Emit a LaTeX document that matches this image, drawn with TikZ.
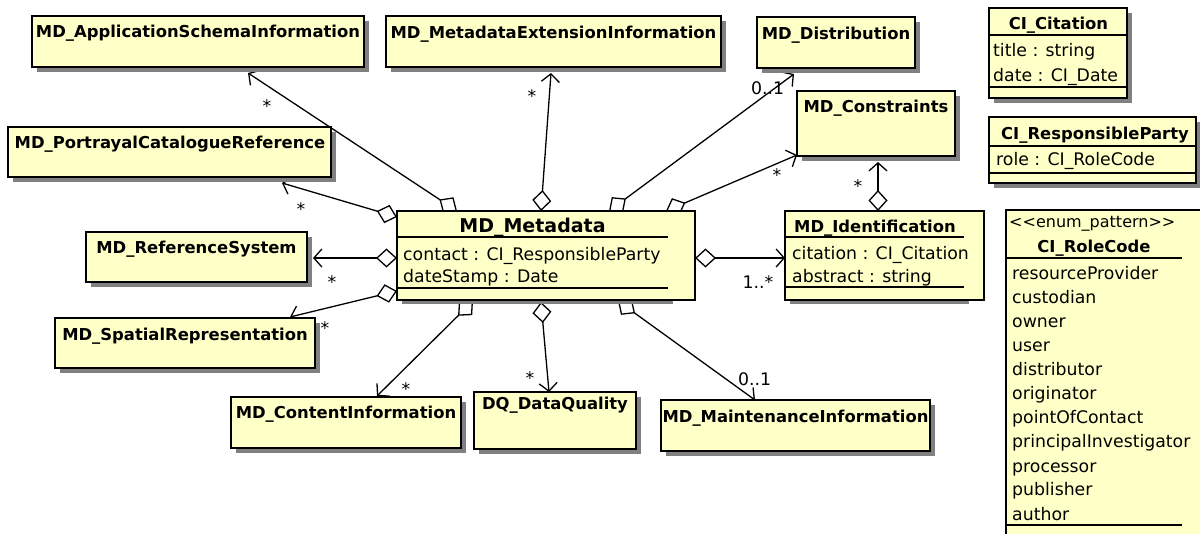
\documentclass[tikz,border=0pt]{standalone}
\usepackage{fontspec}
\setmainfont{DejaVu Sans}
\usetikzlibrary{arrows.meta,shadows,backgrounds}
\definecolor{boxfill}{RGB}{255,255,200}
\definecolor{shadowgray}{RGB}{128,128,128}
\begin{document}
\begin{tikzpicture}[x=1pt,y=-1pt,
  umlbox/.style={draw=black, line width=1.3pt, fill=boxfill, inner sep=0pt, outer sep=0pt, anchor=north west},
  shbox/.style={umlbox, drop shadow={shadow xshift=5pt, shadow yshift=-5pt, fill=shadowgray, opacity=1}},
  shad/.style={fill=shadowgray, draw=none},
  ttl/.style={anchor=base, inner sep=0pt, font=\fontsize{16.4}{20}\selectfont\bfseries},
  bigttl/.style={anchor=base, inner sep=0pt, font=\fontsize{19}{22}\selectfont\bfseries},
  attr/.style={anchor=base west, inner sep=0pt, font=\fontsize{17.3}{20}\selectfont},
  stereo/.style={anchor=base west, inner sep=0pt, font=\fontsize{16}{20}\selectfont},
  mult/.style={anchor=base, inner sep=0pt, font=\fontsize{17.3}{20}\selectfont},
  sepline/.style={line width=1.3pt},
  assoc/.style={line width=1.3pt, line join=miter, {Diamond[length=21pt,width=19pt,fill=white,line width=1.3pt]}-{Straight Barb[length=8pt,width=18pt,line width=1.3pt]}},
]
\useasboundingbox (0,0) rectangle (1200,534);
\clip (0,0) rectangle (1200,534);

% simple boxes
\node[shbox, minimum width=332pt, minimum height=51pt] (asi) at (32,16) {};
\node[ttl] (asiT) at (198,38) {MD\_ApplicationSchemaInformation};
\node[shbox, minimum width=323pt, minimum height=50pt] (pcr) at (8,127) {};
\node[ttl] (pcrT) at (170,149) {MD\_PortrayalCatalogueReference};
\node[shbox, minimum width=221pt, minimum height=50pt] (rs) at (86,232) {};
\node[ttl] (rsT) at (196.5,254) {MD\_ReferenceSystem};
\node[shbox, minimum width=260pt, minimum height=50pt] (sr) at (55,318) {};
\node[ttl] (srT) at (185,341) {MD\_SpatialRepresentation};
\node[shbox, minimum width=230pt, minimum height=51pt] (ci) at (231,397) {};
\node[ttl] (ciT) at (346,419) {MD\_ContentInformation};
\node[shbox, minimum width=162pt, minimum height=57pt] (dq) at (474,392) {};
\node[ttl] (dqT) at (555,410) {DQ\_DataQuality};
\node[shbox, minimum width=269pt, minimum height=51pt] (mi) at (661,400) {};
\node[ttl] (miT) at (795.5,423) {MD\_MaintenanceInformation};
\node[shbox, minimum width=335pt, minimum height=51pt] (mei) at (386,16) {};
\node[ttl] (meiT) at (553.5,39) {MD\_MetadataExtensionInformation};
\node[shbox, minimum width=158pt, minimum height=51pt] (dist) at (757,17) {};
\node[ttl] (distT) at (836,40) {MD\_Distribution};
\node[shbox, minimum width=158pt, minimum height=65pt] (cons) at (797,91) {};
\node[ttl] (consT) at (876,113) {MD\_Constraints};

% MD_Metadata
\fill[shad] (402,216) rectangle (673,304);
\node[umlbox, minimum width=298pt, minimum height=89pt] (meta) at (397,211) {};
\node[bigttl] (metaT) at (532.5,233) {MD\_Metadata};
\draw[sepline] ([yshift=-26pt]meta.north west) -- ++(271,0);
\node[attr] (metaA1) at (403,261) {contact : CI\_ResponsibleParty};
\node[attr] (metaA2) at (403,283) {dateStamp : Date};
\draw[sepline] ([yshift=-77pt]meta.north west) -- ++(271,0);

% MD_Identification
\fill[shad] (790,216) rectangle (969,304);
\node[umlbox, minimum width=199pt, minimum height=89pt] (ident) at (785,211) {};
\node[ttl] (identT) at (875,233) {MD\_Identification};
\draw[sepline] ([yshift=-26pt]ident.north west) -- ++(179,0);
\node[attr] (identA1) at (792,260) {citation : CI\_Citation};
\node[attr] (identA2) at (792,283) {abstract : string};
\draw[sepline] ([yshift=-76pt]ident.north west) -- ++(179,0);

% CI_Citation
\node[shbox, minimum width=138pt, minimum height=90pt] (cit) at (989,8) {};
\node[ttl] (citT) at (1058.5,30) {CI\_Citation};
\draw[sepline] ([yshift=-27pt]cit.north west) -- ([yshift=-27pt]cit.north east);
\node[attr] (citA1) at (993,57) {title : string};
\node[attr] (citA2) at (993,82) {date : CI\_Date};
\draw[sepline] ([yshift=-79pt]cit.north west) -- ([yshift=-79pt]cit.north east);

% CI_ResponsibleParty
\node[shbox, minimum width=207pt, minimum height=66pt] (rp) at (989,117) {};
\node[ttl] (rpT) at (1095,140) {CI\_ResponsibleParty};
\draw[sepline] ([yshift=-29pt]rp.north west) -- ([yshift=-29pt]rp.north east);
\node[attr] (rpA1) at (996,166) {role : CI\_RoleCode};
\draw[sepline] ([yshift=-56pt]rp.north west) -- ([yshift=-56pt]rp.north east);

% CI_RoleCode
\node[umlbox, minimum width=230pt, minimum height=340pt] (role) at (1006,210) {};
\node[stereo] (roleS) at (1009,228) {<{}<enum\_pattern>{}>};
\node[ttl] (roleT) at (1094,253) {CI\_RoleCode};
\draw[sepline] ([yshift=-48pt]role.north west) -- ++(176,0);
\node[attr] (r1) at (1012,280) {resourceProvider};
\node[attr] (r2) at (1012,304) {custodian};
\node[attr] (r3) at (1012,328) {owner};
\node[attr] (r4) at (1012,352) {user};
\node[attr] (r5) at (1012,376) {distributor};
\node[attr] (r6) at (1012,400) {originator};
\node[attr] (r7) at (1012,424) {pointOfContact};
\node[attr] (r8) at (1012,448) {principalInvestigator};
\node[attr] (r9) at (1012,472) {processor};
\node[attr] (r10) at (1012,496) {publisher};
\node[attr] (r11) at (1012,520) {author};
\draw[sepline] ([yshift=-315pt]role.north west) -- ++(176,0);

% connectors
\begin{scope}[on background layer]
\draw[assoc] ([xshift=60pt]meta.north west) -- ([xshift=216pt,yshift=-6pt]asi.south west);
\draw[assoc] ([yshift=-6pt]meta.north west) -- ([xshift=274pt,yshift=-6pt]pcr.south west);
\draw[assoc] ([yshift=-47pt]meta.north west) -- ([xshift=6pt,yshift=-26pt]rs.north east);
\draw[assoc] ([yshift=-80pt]meta.north west) -- ([xshift=235pt,yshift=1pt]sr.north west);
\draw[assoc] ([xshift=76pt,yshift=-1pt]meta.south west) -- ([xshift=146pt,yshift=1pt]ci.north west);
\draw[assoc] ([xshift=144pt,yshift=-2pt]meta.south west) -- ([xshift=75pt]dq.north west);
\draw[assoc] ([xshift=221pt,yshift=-1pt]meta.south west) -- ([xshift=94pt]mi.north west);
\draw[assoc] ([xshift=144pt]meta.north west) -- ([xshift=165pt,yshift=-6pt]mei.south west);
\draw[assoc] ([xshift=212pt]meta.north west) -- ([xshift=37pt,yshift=-6pt]dist.south west);
\draw[assoc] ([xshift=269pt]meta.north west) -- ([yshift=1pt]cons.south west);
\draw[assoc] ([yshift=-47pt]meta.north east) -- ([yshift=-47pt]ident.north west);
\draw[assoc] ([xshift=93pt]ident.north west) -- ([xshift=81pt,yshift=-6pt]cons.south west);
\end{scope}

% multiplicities
\node[mult] (m1) at (267,112.5) {*};
\node[mult] (m2) at (301,216) {*};
\node[mult] (m3) at (332,289) {*};
\node[mult] (m4) at (325,335) {*};
\node[mult] (m5) at (406,396) {*};
\node[mult] (m6) at (530,384.5) {*};
\node[mult] (m7) at (754.5,386) {0..1};
\node[mult] (m8) at (532,103) {*};
\node[mult] (m9) at (767.5,95) {0..1};
\node[mult] (m10) at (777,181.5) {*};
\node[mult] (m11) at (758,289) {1..*};
\node[mult] (m12) at (858,192.5) {*};
\end{tikzpicture}
\end{document}
